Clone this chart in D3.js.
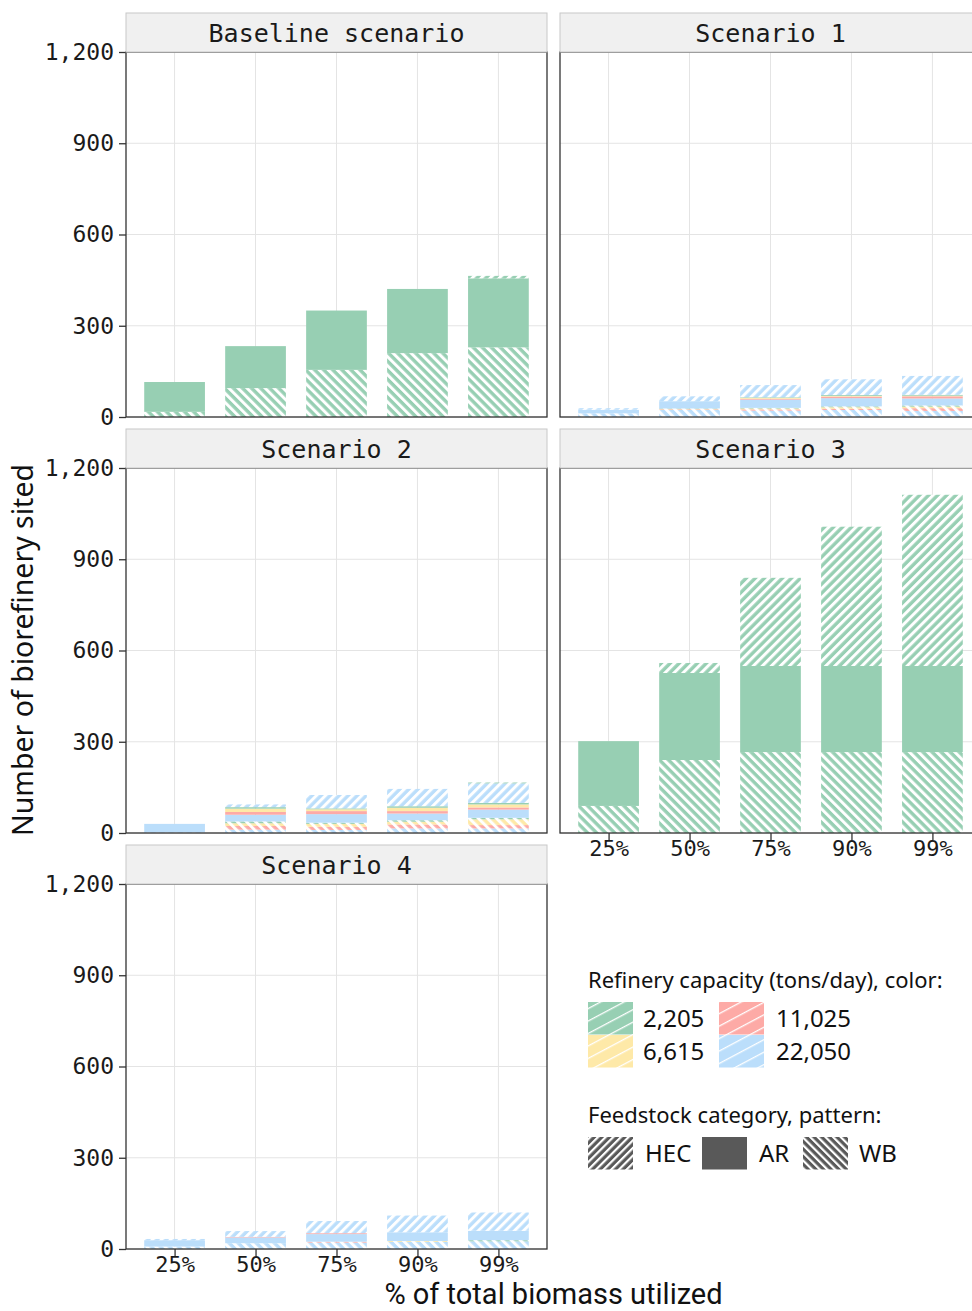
<!DOCTYPE html>
<html>
<head>
<meta charset="utf-8">
<script src="https://cdn.jsdelivr.net/npm/d3@7/dist/d3.min.js"></script>
<style>
  html, body { margin: 0; padding: 0; background: #fff; }
  svg { display: block; }
</style>
</head>
<body>
<div id="chart"></div>
<script>
// ---- categories ----
const pcts = ["25%", "50%", "75%", "90%", "99%"];
const capacities = ["2,205", "6,615", "11,025", "22,050"];
const feedstocks = ["HEC", "AR", "WB"];
const scenarioNames = ["Baseline scenario", "Scenario 1", "Scenario 2", "Scenario 3", "Scenario 4"];
const yTicks = [0, 300, 600, 900, 1200];

// ---- series: [feedstock, capacity, counts per % of biomass utilized] ----
const baseline = [
  ["WB",  "2,205",  [17, 95, 155, 210, 229]],
  ["AR",  "2,205",  [98, 138, 195, 211, 227]],
  ["HEC", "2,205",  [0, 0, 0, 0, 8]]
];
const scenario1 = [
  ["WB",  "22,050", [12, 23, 21, 23, 20]],
  ["WB",  "11,025", [0, 2, 4, 4, 9]],
  ["WB",  "6,615",  [0, 1, 3, 5, 5]],
  ["WB",  "2,205",  [0, 2, 2, 3, 4]],
  ["AR",  "22,050", [12, 24, 27, 27, 23]],
  ["AR",  "11,025", [0, 0, 3, 5, 7]],
  ["AR",  "6,615",  [0, 0, 3, 2, 2]],
  ["AR",  "2,205",  [0, 0, 2, 3, 3]],
  ["HEC", "22,050", [5, 16, 40, 52, 62]]
];
const scenario2 = [
  ["WB",  "22,050", [2, 11, 10, 15, 15]],
  ["WB",  "11,025", [0, 12, 10, 13, 11]],
  ["WB",  "6,615",  [0, 9, 10, 9, 19]],
  ["WB",  "2,205",  [0, 6, 4, 5, 5]],
  ["AR",  "22,050", [28, 22, 28, 22, 27]],
  ["AR",  "11,025", [0, 9, 10, 8, 7]],
  ["AR",  "6,615",  [0, 11, 6, 11, 10]],
  ["AR",  "2,205",  [0, 5, 3, 5, 5]],
  ["HEC", "22,050", [0, 9, 44, 57, 64]],
  ["HEC", "2,205",  [0, 0, 0, 0, 3]]
];
const scenario3 = [
  ["WB",  "2,205",  [89, 240, 266, 266, 266]],
  ["AR",  "2,205",  [213, 286, 283, 283, 283]],
  ["HEC", "2,205",  [0, 33, 290, 458, 563]]
];
const scenario4 = [
  ["WB",  "22,050", [8, 19, 21, 23, 25]],
  ["WB",  "11,025", [0, 0, 3, 0, 0]],
  ["WB",  "6,615",  [0, 0, 0, 3, 0]],
  ["WB",  "2,205",  [0, 0, 0, 0, 4]],
  ["AR",  "22,050", [21, 19, 25, 29, 31]],
  ["AR",  "11,025", [0, 2, 3, 0, 0]],
  ["HEC", "22,050", [4, 19, 40, 55, 60]]
];
const scenarioSeries = [baseline, scenario1, scenario2, scenario3, scenario4];

// ---- styling ----
const capColor = d3.scaleOrdinal()
  .domain(capacities)
  .range(["#97cfb3", "#fee9a8", "#fdaaa6", "#bbdefb"]);
const monoFont = "'DejaVu Sans Mono', monospace";
const sansFont = "'Noto Sans', 'Open Sans', sans-serif";

const W = 972, H = 1311;
const panelW = 421, panelH = 365, stripH = 39;
const colX = [126, 560];
const rowY = [52, 468, 884];
const layout = [[0, 0], [1, 0], [0, 1], [1, 1], [0, 2]];

const svg = d3.select("#chart").append("svg")
  .attr("width", W).attr("height", H)
  .attr("viewBox", `0 0 ${W} ${H}`);
svg.append("rect").attr("width", W).attr("height", H).attr("fill", "#fff");

// ---- stripe patterns ----
const defs = svg.append("defs");
function stripePattern(id, fill, angle, period, stripe, stripeColor) {
  const p = defs.append("pattern")
    .attr("id", id)
    .attr("patternUnits", "userSpaceOnUse")
    .attr("width", period).attr("height", period)
    .attr("patternTransform", `rotate(${angle})`);
  p.append("rect").attr("width", period).attr("height", period).attr("fill", fill);
  p.append("rect").attr("x", 0).attr("y", 0)
    .attr("width", stripe).attr("height", period).attr("fill", stripeColor);
}
function lineKeyPattern(id, fill) {
  const period = 11;
  const p = defs.append("pattern")
    .attr("id", id)
    .attr("patternUnits", "userSpaceOnUse")
    .attr("width", period).attr("height", period)
    .attr("patternTransform", "rotate(-28)");
  p.append("rect").attr("width", period).attr("height", period).attr("fill", fill);
  p.append("rect").attr("x", 0).attr("y", 0)
    .attr("width", period).attr("height", 1.3).attr("fill", "#fff");
}
capacities.forEach((c, i) => {
  stripePattern(`hec-${i}`, capColor(c), 45, 6.4, 3, "#fff");
  stripePattern(`wb-${i}`, capColor(c), -45, 6.4, 3, "#fff");
  lineKeyPattern(`key-${i}`, capColor(c));
});
stripePattern("hec-key", "#595959", 45, 5.4, 2.2, "#fff");
stripePattern("wb-key", "#595959", -45, 5.4, 2.2, "#fff");

function fillFor(feed, cap) {
  const i = capacities.indexOf(cap);
  if (feed === "AR") return capColor(cap);
  return feed === "HEC" ? `url(#hec-${i})` : `url(#wb-${i})`;
}

// ---- shared scales ----
const x = d3.scalePoint().domain(pcts).range([0, panelW]).padding(0.6);
const barW = x.step() * 0.75;
const y = d3.scaleLinear().domain([0, 1200]).range([panelH, 0]);

scenarioNames.forEach((name, si) => {
  const [c, r] = layout[si];
  const px = colX[c], py = rowY[r];
  const g = svg.append("g").attr("transform", `translate(${px},${py})`);

  // strip
  svg.append("rect")
    .attr("x", px).attr("y", py - stripH)
    .attr("width", panelW).attr("height", stripH)
    .attr("fill", "#f0f0f0").attr("stroke", "#c8c8c8").attr("stroke-width", 1);
  svg.append("text")
    .attr("x", px + panelW / 2).attr("y", py - stripH / 2)
    .attr("dy", "0.36em")
    .attr("text-anchor", "middle")
    .attr("font-family", monoFont).attr("font-size", 25)
    .attr("fill", "#1a1a1a")
    .text(name);

  // grid
  g.selectAll(".hgrid").data(yTicks).join("line")
    .attr("x1", 0).attr("x2", panelW)
    .attr("y1", d => y(d)).attr("y2", d => y(d))
    .attr("stroke", "#e4e4e4").attr("stroke-width", 1);
  g.selectAll(".vgrid").data(pcts).join("line")
    .attr("x1", d => x(d)).attr("x2", d => x(d))
    .attr("y1", 0).attr("y2", panelH)
    .attr("stroke", "#e4e4e4").attr("stroke-width", 1);

  // stacked bars: WB at the bottom, then AR, then HEC; 22,050 lowest in each group
  const series = scenarioSeries[si];
  const keys = series.map((s, k) => k);
  const rows = pcts.map((p, pi) => {
    const o = { pct: p };
    series.forEach((s, k) => { o[k] = s[2][pi]; });
    return o;
  });
  const stacked = d3.stack().keys(keys)(rows);
  stacked.forEach((layer, k) => {
    const [feed, cap] = series[k];
    g.append("g").selectAll("rect").data(layer.filter(d => d[1] - d[0] > 0)).join("rect")
      .attr("x", d => x(d.data.pct) - barW / 2)
      .attr("width", barW)
      .attr("y", d => y(d[1]))
      .attr("height", d => y(d[0]) - y(d[1]))
      .attr("fill", fillFor(feed, cap));
  });

  // panel border
  g.append("rect")
    .attr("width", panelW).attr("height", panelH)
    .attr("fill", "none").attr("stroke", "#333").attr("stroke-width", 1.3);

  // y axis on left column
  if (c === 0) {
    const ya = g.append("g")
      .call(d3.axisLeft(y).tickValues(yTicks).tickFormat(d3.format(",")).tickSize(7).tickPadding(5));
    ya.select(".domain").remove();
    ya.selectAll("line").attr("stroke", "#333").attr("stroke-width", 1.3);
    ya.selectAll("text").attr("font-family", monoFont).attr("font-size", 23).attr("fill", "#1a1a1a");
  }
  // x axis on bottom panel of each column
  if (si === 3 || si === 4) {
    const xa = g.append("g").attr("transform", `translate(0,${panelH})`)
      .call(d3.axisBottom(x).tickSize(7).tickPadding(0));
    xa.select(".domain").remove();
    xa.selectAll("line").attr("stroke", "#333").attr("stroke-width", 1.3);
    xa.selectAll("text").attr("font-family", monoFont).attr("font-size", 22).attr("fill", "#1a1a1a");
  }
});

// axis titles
svg.append("text")
  .attr("transform", `translate(33,650) rotate(-90)`)
  .attr("text-anchor", "middle")
  .attr("font-family", sansFont).attr("font-size", 28.5).attr("fill", "#111")
  .text("Number of biorefinery sited");
svg.append("text")
  .attr("x", 553.5).attr("y", 1303.5)
  .attr("text-anchor", "middle")
  .attr("font-family", "Roboto, 'Noto Sans', sans-serif").attr("font-size", 29).attr("fill", "#111")
  .text("% of total biomass utilized");

// ---- legends ----
const leg = svg.append("g");
leg.append("text")
  .attr("x", 588).attr("y", 988)
  .attr("font-family", sansFont).attr("font-size", 22).attr("fill", "#111")
  .text("Refinery capacity (tons/day), color:");
const keyW = 45, keyH = 32.5;
const colorKeys = [
  { cap: "2,205",  kx: 588, ky: 1002, lx: 643 },
  { cap: "6,615",  kx: 588, ky: 1035, lx: 643 },
  { cap: "11,025", kx: 719, ky: 1002, lx: 776 },
  { cap: "22,050", kx: 719, ky: 1035, lx: 776 }
];
leg.selectAll(".ck").data(colorKeys).join("rect")
  .attr("x", d => d.kx).attr("y", d => d.ky)
  .attr("width", keyW).attr("height", keyH)
  .attr("fill", d => `url(#key-${capacities.indexOf(d.cap)})`);
leg.selectAll(".cl").data(colorKeys).join("text")
  .attr("x", d => d.lx).attr("y", d => d.ky + keyH / 2)
  .attr("dy", "0.36em")
  .attr("font-family", sansFont).attr("font-size", 24).attr("fill", "#111")
  .text(d => d.cap);

leg.append("text")
  .attr("x", 588).attr("y", 1123)
  .attr("font-family", sansFont).attr("font-size", 22).attr("fill", "#111")
  .text("Feedstock category, pattern:");
const patternKeys = [
  { feed: "HEC", kx: 588, lx: 645, fill: "url(#hec-key)" },
  { feed: "AR",  kx: 702, lx: 759, fill: "#595959" },
  { feed: "WB",  kx: 803, lx: 859, fill: "url(#wb-key)" }
];
leg.selectAll(".pk").data(patternKeys).join("rect")
  .attr("x", d => d.kx).attr("y", 1137)
  .attr("width", keyW).attr("height", keyH)
  .attr("fill", d => d.fill);
leg.selectAll(".pl").data(patternKeys).join("text")
  .attr("x", d => d.lx).attr("y", 1137 + keyH / 2)
  .attr("dy", "0.36em")
  .attr("font-family", sansFont).attr("font-size", 24).attr("fill", "#111")
  .text(d => d.feed);
</script>
</body>
</html>
